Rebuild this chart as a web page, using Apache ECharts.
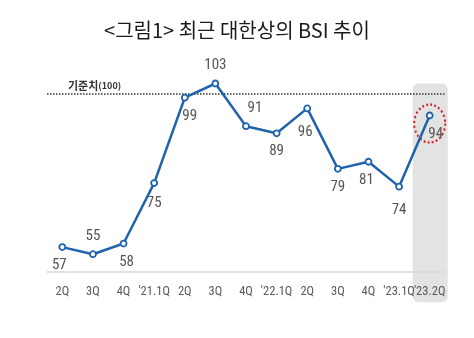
<!DOCTYPE html>
<html><head><meta charset="utf-8">
<script src="https://cdn.jsdelivr.net/npm/echarts@6/dist/echarts.min.js"></script>
<style>html,body{margin:0;padding:0;background:#fff}#c{width:474px;height:338px}</style>
</head><body><div id="c"></div>
<script>
const categories = ["2Q","3Q","4Q","'21.1Q","2Q","3Q","4Q","'22.1Q","2Q","3Q","4Q","'23.1Q","'23.2Q"];
const bsiValues = [57,55,58,75,99,103,91,89,96,79,81,74,94];
const baseline = 100;
const titleText = "<그림1> 최근 대한상의 BSI 추이";

const placements = {
  0:{position:'bottom',offset:[-3,0]},
  1:{position:'top',offset:[0,0]},
  2:{position:'bottom',offset:[3,0]},
  3:{position:'bottom',offset:[0,2]},
  4:{position:'bottom',offset:[5,0]},
  5:{position:'top',offset:[0,0]},
  6:{position:'top',offset:[9,0]},
  7:{position:'bottom',offset:[0,0]},
  8:{position:'bottom',offset:[-2,5]},
  9:{position:'bottom',offset:[0,0]},
  10:{position:'bottom',offset:[-2,0]},
  11:{position:'bottom',offset:[0,5]},
  12:{position:'bottom',offset:[6,0]}
};
const labelFont = "'Liberation Sans Narrow','Roboto Condensed','Roboto',sans-serif";
const seriesData = bsiValues.map((v,i)=>({
  value:v,
  label:{show:true,position:placements[i].position,offset:placements[i].offset,distance:7,
    color:'#555',fontSize:15,fontFamily:labelFont}
}));

const chart = echarts.init(document.getElementById('c'));
chart.setOption({
  animation:false,
  title:{text:titleText,left:'center',top:15,textStyle:{fontSize:20,fontWeight:'normal',color:'#1a1a1a',fontFamily:"'Noto Sans CJK KR',sans-serif"}},
  grid:{left:47,right:29,top:58.6,bottom:66},
  xAxis:{type:'category',data:categories,boundaryGap:true,
    axisLine:{lineStyle:{color:'#d9d9d9',width:1.5}},axisTick:{show:false},
    axisLabel:{color:'#595959',fontSize:12.5,margin:13,interval:0,fontFamily:labelFont}},
  yAxis:{type:'value',min:50,max:110,show:false,splitLine:{show:false}},
  series:[{
    type:'line',data:seriesData,z:5,
    lineStyle:{color:'#1f63ad',width:2.5},
    itemStyle:{color:'#fff',borderColor:'#1f63ad',borderWidth:1.8},
    symbol:'circle',symbolSize:6,showAllSymbol:true,
    markLine:{silent:true,symbol:'none',
      data:[{yAxis:baseline}],
      lineStyle:{color:'#333',type:'dotted',width:1.5},
      label:{show:true,position:'insideStartTop',distance:[21,3],
        formatter:'{a|기준치}{b|(100)}',
        rich:{a:{fontSize:11,fontWeight:'bold',color:'#333',fontFamily:"'Noto Sans CJK KR',sans-serif"},
              b:{fontSize:9,fontWeight:'bold',color:'#333',fontFamily:"'Noto Sans CJK KR',sans-serif"}}}},
    markPoint:{silent:true,symbol:'circle',symbolSize:[31,38],symbolOffset:[0,8],
      label:{show:false},
      itemStyle:{color:'rgba(0,0,0,0)',borderColor:'#d42430',borderWidth:2.2,borderType:[2,2.5]},
      data:[{coord:[categories.length-1,bsiValues[bsiValues.length-1]]}]}
  }]
});
const last = categories.length-1;
const cx = chart.convertToPixel({xAxisIndex:0},last);
const yTop = chart.convertToPixel({yAxisIndex:0},103);
const yBot = chart.convertToPixel({yAxisIndex:0},41.5);
chart.setOption({graphic:[{type:'rect',z:-10,silent:true,
  shape:{x:cx-17,y:yTop,width:35,height:yBot-yTop,r:6},
  style:{fill:'#e3e3e3'}}]});
</script></body></html>
